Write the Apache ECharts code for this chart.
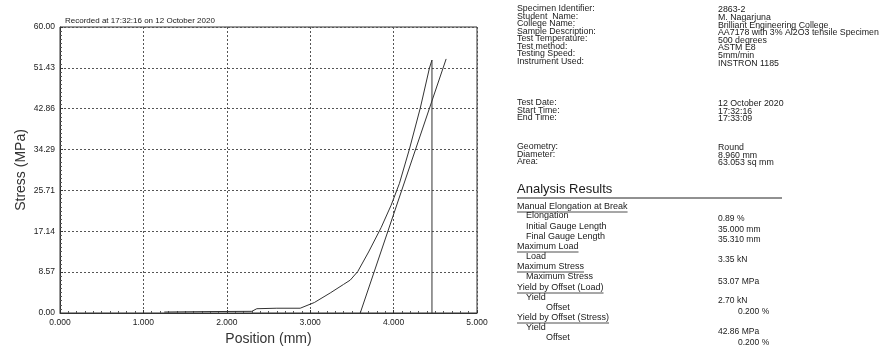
<!DOCTYPE html>
<html><head><meta charset="utf-8">
<script src="https://cdn.jsdelivr.net/npm/echarts@6/dist/echarts.min.js"></script>
<style>html,body{margin:0;padding:0;background:#fff}#c{width:888px;height:349px}</style>
</head><body><div id="c"></div>
<script>
// ---- data ----
const xTickLabels = ['0.000','1.000','2.000','3.000','4.000','5.000'];
const yTickLabels = ['0.00','8.57','17.14','25.71','34.29','42.86','51.43','60.00'];
const positionMm = [1.25,1.8,2.3,2.36,2.6,2.88,3.05,3.24,3.4,3.48,3.57,3.7,3.85,3.97,4.07,4.19,4.32,4.43,4.46,4.46];
const stressMPa  = [0.2,0.3,0.35,0.9,1.0,1.0,2.2,4.2,6.0,6.9,8.7,12.8,17.9,22.6,27.2,34.4,43.0,51.4,53.07,0];
const offsetPos = [3.60, 4.63];
const offsetStress = [0, 53.3];
const chartTitle = 'Recorded at 17:32:16 on 12 October 2020';
const infoLabels = ['Specimen Identifier:','Student  Name:','College Name:','Sample Description:','Test Temperature:','Test method:','Testing Speed:','Instrument Used:'];
const infoValues = ['2863-2','M. Nagarjuna','Brilliant Engineering College','AA7178 with 3% Al2O3 tensile Specimen','500 degrees','ASTM E8','5mm/min','INSTRON 1185'];
const dateLabels = ['Test Date:','Start Time:','End Time:'];
const dateValues = ['12 October 2020','17:32:16','17:33:09'];
const geomLabels = ['Geometry:','Diameter:','Area:'];
const geomValues = ['Round','8.960 mm','63.053 sq mm'];
const resultsTitle = 'Analysis Results';
// [text, type] type: h = underlined heading, i = indented item, o = offset item
const resultLabels = [
 ['Manual Elongation at Break','h'],['Elongation','i'],['Initial Gauge Length','i'],['Final Gauge Length','i'],
 ['Maximum Load','h'],['Load','i'],['Maximum Stress','h'],['Maximum Stress','i'],
 ['Yield by Offset (Load)','h'],['Yield','i'],['Offset','o'],['Yield by Offset (Stress)','h'],['Yield','i'],['Offset','o']];
const resultValues = [['0.89 %',0],['35.000 mm',0],['35.310 mm',0],['3.35 kN',0],['53.07 MPa',0],['2.70 kN',0],['0.200 %',1],['42.86 MPa',0],['0.200 %',1]];

// ---- layout ----
const FONT = "'Liberation Sans', Arial, sans-serif";
const TXT = '#1a1a1a';
const measure = (() => { const c = document.createElement('canvas').getContext('2d');
  return (t, fs) => { c.font = fs + 'px ' + FONT; return c.measureText(t).width; }; })();

const graphics = [];
function text(x, y, t, fs, extra) {
  graphics.push(Object.assign({type:'text', x:x, y:y, style:{text:t, font: fs+'px '+FONT, fill:TXT, textVerticalAlign:'middle'}}, extra||{}));
}
function uline(x1, x2, y, w) {
  graphics.push({type:'line', shape:{x1:x1,y1:y,x2:x2,y2:y}, style:{stroke:'#222', lineWidth:w||0.8}});
}
// chart title
text(65, 21, chartTitle, 8);
// info block
infoLabels.forEach((t,i)=>text(517, 9 + 7.5*i, t, 8.8));
infoValues.forEach((t,i)=>text(718, 10 + 7.6*i, t, 8.8));
dateLabels.forEach((t,i)=>text(517, 103 + 7.5*i, t, 8.8));
dateValues.forEach((t,i)=>text(718, 104 + 7.5*i, t, 8.8));
geomLabels.forEach((t,i)=>text(517, 147 + 7.5*i, t, 8.8));
geomValues.forEach((t,i)=>text(718, 148 + 7.5*i, t, 8.8));
text(517, 189, resultsTitle, 13);
uline(517, 782, 198, 1);
const rY = [207,216,227,237,247,257,267,277,288,298,308,318,328,338];
resultLabels.forEach((r,i)=>{
  const x = r[1]==='h' ? 517 : (r[1]==='i' ? 526 : 546);
  text(x, rY[i], r[0], 9);
  if (r[1]==='h') uline(x, x + measure(r[0], 9), rY[i] + 5);
});
const vY = [219,230,240,260,282,301,312,332,343];
resultValues.forEach((v,i)=>text(v[1] ? 738 : 718, vY[i], v[0], 8.5));

const chart = echarts.init(document.getElementById('c'), null, {renderer:'canvas'});
const dotted = {show:true, lineStyle:{color:'#555', type:[2,2], width:1}};
chart.setOption({
  animation:false,
  backgroundColor:'#fff',
  textStyle:{fontFamily:FONT},
  grid:{left:60, top:27, width:417, height:286, outerBoundsMode:'none', containLabel:false,
    show:true, borderColor:'#333', borderWidth:1, backgroundColor:'transparent'},
  xAxis:{type:'value', min:0, max:5, interval:1,
    name:'Position (mm)', nameLocation:'middle', nameGap:19, nameTextStyle:{fontSize:14, color:'#333', fontFamily:FONT},
    axisLine:{lineStyle:{color:'#333'}}, axisTick:{inside:true, length:3, lineStyle:{color:'#333'}},
    minorTick:{show:true, splitNumber:10, length:2, lineStyle:{color:'#555'}},
    axisLabel:{fontSize:8.5, color:TXT, margin:5, formatter:(v)=>xTickLabels[Math.round(v)]},
    splitLine:dotted},
  yAxis:{type:'value', min:0, max:60, interval:60/7,
    name:'Stress (MPa)', nameLocation:'middle', nameGap:32, nameTextStyle:{fontSize:14, color:'#333', fontFamily:FONT},
    axisLine:{show:true, lineStyle:{color:'#333'}}, axisTick:{show:true, inside:true, length:3, lineStyle:{color:'#333'}},
    minorTick:{show:true, splitNumber:10, length:2, lineStyle:{color:'#555'}},
    axisLabel:{fontSize:8.5, color:TXT, margin:5, formatter:(v)=>yTickLabels[Math.round(v/(60/7))]},
    splitLine:dotted},
  series:[
    {type:'line', data:positionMm.map((x,i)=>[x, stressMPa[i]]), showSymbol:false, lineStyle:{color:'#333', width:1}},
    {type:'line', data:offsetPos.map((x,i)=>[x, offsetStress[i]]), showSymbol:false, lineStyle:{color:'#333', width:1}}
  ],
  graphic:graphics
});
</script></body></html>
